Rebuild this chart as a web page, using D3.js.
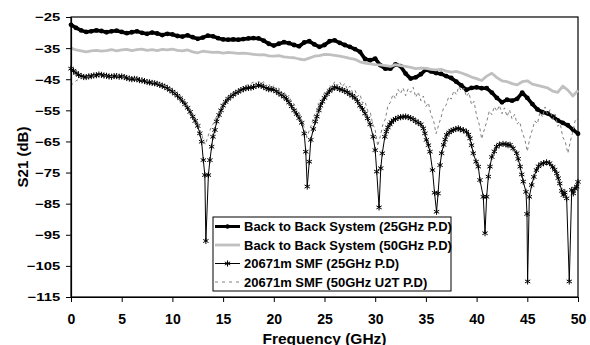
<!DOCTYPE html>
<html>
<head>
<meta charset="utf-8">
<script src="https://cdn.jsdelivr.net/npm/d3@7"></script>
<style>
  body { margin: 0; background: #fff; }
  svg { display: block; font-family: Arial, "Liberation Sans", sans-serif; }
</style>
</head>
<body>
<svg id="chart" width="590" height="345"></svg>
<script>
// tick labels
const xTicks = [0, 5, 10, 15, 20, 25, 30, 35, 40, 45, 50];
const yTicks = [-25, -35, -45, -55, -65, -75, -85, -95, -105, -115];

const seriesNames = [
  'Back to Back System (25GHz P.D)',
  'Back to Back System (50GHz P.D)',
  '20671m SMF (25GHz P.D)',
  '20671m SMF (50GHz U2T P.D)'
];

// frequency grid of the back to back sweeps (GHz)
const freqB2B = [0, 0.5, 1, 1.5, 2, 2.5, 3, 3.5, 4, 4.5, 5, 5.5, 6, 6.5, 7, 7.5, 8, 8.5, 9, 9.5,
  10, 10.5, 11, 11.5, 12, 12.5, 13, 13.5, 14, 14.5, 15, 15.5, 16, 16.5, 17, 17.5, 18, 18.5, 19, 19.5,
  20, 20.5, 21, 21.5, 22, 22.5, 23, 23.5, 24, 24.5, 25, 25.5, 26, 26.5, 27, 27.5, 28, 28.5, 29, 29.5,
  30, 30.5, 31, 31.5, 32, 32.5, 33, 33.5, 34, 34.5, 35, 35.5, 36, 36.5, 37, 37.5, 38, 38.5, 39, 39.5,
  40, 40.5, 41, 41.5, 42, 42.5, 43, 43.5, 44, 44.5, 45, 45.5, 46, 46.5, 47, 47.5, 48, 48.5, 49, 49.5, 50];

// S21 (dB), back to back, 25GHz photodiode
const b2b25 = [-27.5, -28.5, -29.3, -29.8, -29.6, -29.3, -29.5, -29.9, -29.6, -29.4,
  -29.8, -30.2, -29.9, -29.6, -30.1, -30.4, -30.0, -30.3, -30.8, -30.4,
  -30.6, -31.1, -31.3, -30.9, -31.5, -32.0, -31.6, -31.0, -31.2, -31.8,
  -32.2, -32.3, -32.2, -32.3, -32.1, -31.9, -31.8, -31.9, -32.6, -33.6,
  -34.2, -33.6, -33.1, -33.4, -34.0, -34.4, -33.2, -32.8, -33.8, -34.6,
  -34.0, -32.8, -32.5, -33.3, -34.0, -34.6, -35.3, -36.2, -38.5, -38.9,
  -38.4, -40.5, -41.6, -41.6, -40.2, -40.8, -43.2, -44.8, -44.4, -43.4,
  -41.9, -42.5, -43.0, -43.3, -44.0, -44.6, -45.8, -47.0, -48.4, -47.8,
  -47.6, -47.9, -47.9, -49.3, -51.0, -52.4, -51.6, -51.9, -51.3, -49.3,
  -51.0, -53.0, -54.7, -55.6, -56.0, -57.0, -58.2, -59.0, -59.8, -61.2, -62.5];

// S21 (dB), back to back, 50GHz photodiode
const b2b50 = [-35.0, -35.6, -35.9, -36.2, -35.9, -35.7, -36.0, -35.8, -35.5, -35.9,
  -35.6, -35.4, -35.8, -35.5, -35.3, -35.7, -35.5, -35.8, -35.4, -35.6,
  -35.3, -35.7, -35.9, -35.6, -36.2, -36.5, -36.0, -36.2, -36.4, -36.3,
  -36.6, -36.4, -36.5, -36.7, -36.6, -36.8, -37.0, -37.2, -37.1, -37.5,
  -37.6, -37.4, -37.8, -38.0, -38.1, -38.5, -38.8, -38.2, -37.6, -37.4,
  -37.0, -37.1, -37.3, -37.6, -37.9, -38.3, -38.6, -39.4, -39.8, -40.1,
  -40.3, -40.4, -40.6, -40.9, -40.3, -40.6, -40.9, -41.2, -41.6, -41.4,
  -41.5, -41.8, -42.0, -41.8, -42.4, -42.7, -42.5, -43.0, -43.6, -44.3,
  -44.8, -45.4, -44.0, -43.1, -44.5, -45.5, -45.8, -46.4, -46.8, -45.8,
  -45.5, -46.6, -47.0, -47.4, -47.8, -48.8, -49.2, -47.2, -48.5, -50.4, -48.6];

// 20671m SMF, 25GHz photodiode: [GHz, dB]
const smf25 = [[0, -41.6], [0.25, -42.3], [0.5, -43.0], [0.75, -43.6], [1, -44.0], [1.25, -44.3],
  [1.5, -44.3], [1.75, -44.1], [2, -44.0], [2.25, -43.8], [2.5, -43.7], [2.75, -43.5], [3, -43.6],
  [3.25, -43.8], [3.5, -43.9], [3.75, -44.1], [4, -44.2], [4.25, -44.0], [4.5, -44.0], [4.75, -44.2],
  [5, -44.1], [5.25, -44.3], [5.5, -44.6], [5.75, -44.8], [6, -45.0], [6.25, -44.9], [6.5, -45.0],
  [6.75, -45.3], [7, -45.4], [7.25, -45.6], [7.5, -45.9], [7.75, -46.0], [8, -46.2], [8.25, -46.3],
  [8.5, -46.5], [8.75, -46.8], [9, -47.1], [9.25, -47.4], [9.5, -47.9], [9.75, -48.4], [10, -49.0],
  [10.25, -49.6], [10.5, -50.3], [10.75, -51.1], [11, -52.0], [11.25, -53.0], [11.5, -54.2],
  [11.75, -55.5], [12, -57.0], [12.25, -58.4], [12.5, -60.0], [12.7, -62.4], [12.88, -65.1],
  [13.05, -71.0], [13.2, -75.8], [13.3, -97.0], [13.55, -75.8], [13.7, -71.0], [13.87, -66.7],
  [14.0, -63.5], [14.2, -61.3], [14.36, -58.6], [14.6, -56.5], [14.8, -55.0], [15, -53.5],
  [15.25, -52.3], [15.5, -51.3], [15.75, -50.6], [16, -50.0], [16.25, -49.4], [16.5, -49.0],
  [16.75, -48.5], [17, -48.2], [17.25, -47.9], [17.5, -47.8], [17.75, -47.7], [18, -47.5],
  [18.25, -47.1], [18.5, -46.9], [18.75, -47.1], [19, -47.4], [19.25, -47.9], [19.5, -48.2],
  [19.75, -48.2], [20, -48.4], [20.25, -48.9], [20.5, -49.5], [20.75, -50.0], [21, -50.6],
  [21.25, -51.4], [21.5, -52.5], [21.75, -53.7], [22, -55.0], [22.25, -56.2], [22.5, -57.5],
  [22.75, -59.0], [23.0, -62.5], [23.15, -68.3], [23.3, -79.5], [23.5, -71.5], [23.65, -64.5],
  [23.9, -61.0], [24.1, -58.6], [24.25, -57.0], [24.45, -55.0], [24.6, -53.5], [24.8, -52.2],
  [25, -51.0], [25.25, -49.8], [25.5, -48.8], [25.75, -48.1], [26, -47.6], [26.25, -47.8],
  [26.5, -48.2], [26.75, -48.4], [27, -48.8], [27.25, -49.2], [27.5, -49.8], [27.75, -50.3],
  [28, -51.0], [28.25, -52.1], [28.5, -53.5], [28.75, -54.6], [29, -56.0], [29.25, -57.6],
  [29.5, -59.5], [29.8, -63.5], [30.0, -67.8], [30.15, -74.7], [30.38, -86.2], [30.55, -73.6],
  [30.7, -68.8], [30.95, -63.5], [31.1, -61.8], [31.25, -60.5], [31.45, -59.5], [31.6, -58.8],
  [31.8, -58.2], [32, -57.8], [32.25, -57.4], [32.5, -57.2], [32.75, -57.1], [33, -57.0],
  [33.25, -57.2], [33.5, -57.5], [33.75, -57.9], [34, -58.5], [34.25, -59.0], [34.5, -59.5],
  [34.75, -60.8], [34.9, -62.4], [35.05, -64.5], [35.25, -66.2], [35.4, -68.3], [35.65, -74.2],
  [35.85, -81.5], [36.05, -87.6], [36.2, -81.7], [36.4, -72.6], [36.55, -68.8], [36.75, -66.1],
  [36.9, -64.4], [37.05, -62.9], [37.3, -62.1], [37.5, -61.6], [37.7, -61.3], [37.95, -61.0],
  [38.2, -60.8], [38.4, -61.1], [38.7, -61.4], [39.0, -61.9], [39.2, -62.8], [39.35, -64.0],
  [39.5, -66.2], [39.67, -68.8], [39.95, -71.5], [40.17, -73.1], [40.33, -77.4], [40.66, -82.8],
  [40.83, -94.5], [40.99, -82.8], [41.16, -76.3], [41.32, -73.1], [41.5, -70.0], [41.75, -68.2],
  [41.97, -66.7], [42.25, -66.0], [42.6, -65.8], [42.9, -65.9], [43.1, -66.2], [43.3, -66.1],
  [43.6, -67.2], [43.95, -68.8], [44.1, -70.6], [44.3, -73.1], [44.45, -75.6], [44.6, -77.9],
  [44.87, -81.2], [44.97, -88.3], [45.03, -110.0], [45.2, -82.8], [45.43, -79.0], [45.65, -76.4],
  [45.9, -74.2], [46.1, -73.0], [46.35, -72.3], [46.6, -72.0], [46.9, -71.7], [47.2, -72.0],
  [47.5, -73.2], [47.7, -74.1], [47.9, -75.3], [48.05, -76.8], [48.2, -78.5], [48.4, -80.9],
  [48.55, -82.2], [48.7, -81.4], [48.88, -83.3], [49.14, -110.0], [49.38, -80.6], [49.54, -81.7],
  [49.7, -80.2], [49.87, -79.5], [50, -78.0]];

// 20671m SMF, 50GHz U2T photodiode: [GHz, dB]
const smf50 = [[0, -47.0], [0.25, -46.2], [0.5, -45.5], [0.75, -45.1], [1, -44.6], [1.5, -44.3],
  [2, -44.1], [2.5, -43.8], [3, -43.7], [3.5, -44.0], [4, -44.1], [4.5, -43.9], [5, -44.2],
  [5.5, -44.4], [6, -44.8], [6.5, -44.9], [7, -45.2], [7.5, -45.6], [8, -46.0], [8.5, -46.3],
  [9, -46.8], [9.5, -47.6], [10, -48.6], [10.5, -49.8], [11, -51.5], [11.5, -53.6], [12, -56.2],
  [12.5, -59.0], [12.75, -61.5], [13, -64.0], [13.25, -66.0], [13.5, -63.5], [13.75, -61.0],
  [14, -59.5], [14.5, -56.0], [15, -52.8], [15.5, -50.6], [16, -49.2], [16.5, -48.6], [17, -47.1],
  [17.5, -46.8], [18, -45.9], [18.25, -47.2], [18.5, -45.6], [18.75, -46.5], [19, -45.8],
  [19.25, -47.3], [19.5, -46.4], [19.75, -48.1], [20, -46.9], [20.25, -48.6], [20.5, -47.8],
  [20.75, -49.7], [21, -48.9], [21.25, -50.8], [21.5, -50.2], [21.75, -52.4], [22, -52.9],
  [22.25, -55.0], [22.5, -55.6], [22.75, -58.2], [23, -60.5], [23.25, -63.8], [23.5, -61.5],
  [23.75, -59.2], [24, -56.4], [24.25, -55.1], [24.5, -52.3], [24.75, -51.6], [25, -49.2],
  [25.25, -48.9], [25.5, -47.1], [25.75, -47.6], [26, -45.8], [26.25, -47.0], [26.5, -45.9],
  [26.75, -47.4], [27, -46.3], [27.25, -48.2], [27.5, -47.2], [27.75, -49.1], [28, -48.4],
  [28.25, -50.6], [28.5, -49.8], [28.75, -52.7], [29, -52.2], [29.25, -55.1], [29.5, -55.4],
  [29.75, -59.3], [30, -61.2], [30.25, -66.5], [30.5, -63.4], [30.75, -59.6], [31, -57.8],
  [31.25, -53.6], [31.5, -52.4], [31.75, -49.9], [32, -51.2], [32.25, -48.3], [32.5, -49.6],
  [32.75, -47.8], [33, -50.3], [33.25, -48.1], [33.5, -49.2], [33.75, -47.6], [34, -50.8],
  [34.25, -49.1], [34.5, -51.9], [34.75, -50.4], [35, -53.8], [35.25, -52.6], [35.5, -56.4],
  [35.75, -58.1], [36, -62.5], [36.25, -59.8], [36.5, -57.2], [36.75, -54.1], [37, -53.3],
  [37.25, -50.6], [37.5, -51.4], [37.75, -48.7], [38, -49.9], [38.25, -47.4], [38.5, -48.8],
  [38.75, -47.9], [39, -50.6], [39.25, -49.3], [39.5, -53.2], [39.75, -52.1], [40, -56.8],
  [40.25, -59.4], [40.5, -64.2], [40.75, -61.3], [41, -58.6], [41.25, -55.2], [41.5, -56.4],
  [41.75, -53.8], [42, -55.3], [42.25, -53.4], [42.5, -56.1], [42.75, -54.2], [43, -57.0],
  [43.25, -54.9], [43.5, -57.8], [43.75, -56.3], [44, -59.4], [44.25, -58.6], [44.5, -62.1],
  [44.75, -64.3], [45, -68.2], [45.25, -63.9], [45.5, -61.2], [45.75, -58.4], [46, -59.3],
  [46.25, -55.6], [46.5, -57.1], [46.75, -53.9], [47, -56.3], [47.25, -54.8], [47.5, -57.9],
  [47.75, -56.2], [48, -60.1], [48.25, -59.3], [48.5, -63.6], [48.75, -65.2], [49, -68.8],
  [49.25, -64.9], [49.5, -61.7], [49.75, -57.8], [50, -58.6]];

const plotLeft = 71, plotRight = 578, plotTop = 17, plotBottom = 297;

const svg = d3.select('svg#chart');

const x = d3.scaleLinear().domain([0, 50]).range([plotLeft, plotRight]);
const y = d3.scaleLinear().domain([-115, -25]).range([plotBottom, plotTop]);

// frame
svg.append('rect')
  .attr('x', plotLeft).attr('y', plotTop)
  .attr('width', plotRight - plotLeft).attr('height', plotBottom - plotTop)
  .attr('fill', 'none').attr('stroke', '#000').attr('stroke-width', 1.2);

const line = d3.line().x(d => x(d[0])).y(d => y(d[1]));

const s1 = freqB2B.map((f, i) => [f, b2b25[i]]);
const s2 = freqB2B.map((f, i) => [f, b2b50[i]]);

const plot = svg.append('g');

// back to back 25GHz: thick black with dots
plot.append('path').datum(s1)
  .attr('d', line).attr('fill', 'none')
  .attr('stroke', '#000').attr('stroke-width', 3.6).attr('stroke-linejoin', 'round');
plot.append('g').selectAll('circle')
  .data(s1).join('circle')
  .attr('cx', d => x(d[0])).attr('cy', d => y(d[1])).attr('r', 2.4)
  .attr('fill', '#000');

// back to back 50GHz: light grey
plot.append('path').datum(s2)
  .attr('d', line).attr('fill', 'none')
  .attr('stroke', '#c0c0c0').attr('stroke-width', 2.8).attr('stroke-linejoin', 'round');

// SMF 25GHz: thin black with star markers
const star = d3.symbol(d3.symbolAsterisk, 26);
plot.append('path').datum(smf25)
  .attr('d', line).attr('fill', 'none')
  .attr('stroke', '#000').attr('stroke-width', 1);
plot.append('g').selectAll('path')
  .data(smf25).join('path')
  .attr('transform', d => 'translate(' + x(d[0]) + ',' + y(d[1]) + ')')
  .attr('d', star).attr('fill', 'none').attr('stroke', '#000').attr('stroke-width', 1);

// SMF 50GHz U2T: grey dashes
plot.append('path').datum(smf50)
  .attr('d', line).attr('fill', 'none')
  .attr('stroke', '#808080').attr('stroke-width', 1)
  .attr('stroke-dasharray', '3,3');

// axes
const xAxis = svg.append('g')
  .attr('transform', 'translate(0,' + plotBottom + ')')
  .call(d3.axisBottom(x).tickValues(xTicks).tickSize(5).tickSizeOuter(0));
xAxis.select('.domain').attr('stroke-width', 1.2);
xAxis.selectAll('text')
  .attr('y', 27).attr('dy', 0)
  .attr('font-size', '14px').attr('font-weight', 'bold').attr('fill', '#000')
  .attr('font-family', 'Arial, "Liberation Sans", sans-serif');

const yAxis = svg.append('g')
  .attr('transform', 'translate(' + plotLeft + ',0)')
  .call(d3.axisLeft(y).tickValues(yTicks).tickSize(5).tickSizeOuter(0));
yAxis.select('.domain').attr('stroke-width', 1.2);
yAxis.selectAll('text')
  .attr('x', -8).attr('dy', '0.36em')
  .attr('transform', 'scale(1.35,1)')
  .attr('font-size', '11px').attr('font-weight', 'bold').attr('fill', '#000')
  .attr('font-family', 'Arial, "Liberation Sans", sans-serif');

// axis titles
svg.append('text')
  .attr('x', (plotLeft + plotRight) / 2).attr('y', 344)
  .attr('text-anchor', 'middle')
  .attr('font-size', '15.5px').attr('font-weight', 'bold')
  .text('Frequency (GHz)');

svg.append('text')
  .attr('transform', 'translate(28,157) rotate(-90)')
  .attr('text-anchor', 'middle')
  .attr('font-size', '15px').attr('font-weight', 'bold')
  .text('S21 (dB)');

// legend
const legend = svg.append('g');
legend.append('rect')
  .attr('x', 213).attr('y', 217).attr('width', 238).attr('height', 74)
  .attr('fill', '#fff').attr('stroke', '#000').attr('stroke-width', 1);

const rows = legend.selectAll('g.row')
  .data(seriesNames).join('g')
  .attr('class', 'row')
  .attr('transform', (d, i) => 'translate(0,' + (226.5 + i * 18.5) + ')');

rows.append('line')
  .attr('x1', 215).attr('x2', 240)
  .attr('stroke', (d, i) => ['#000', '#c0c0c0', '#000', '#808080'][i])
  .attr('stroke-width', (d, i) => [3, 2.8, 1, 1][i])
  .attr('stroke-dasharray', (d, i) => i === 3 ? '3,4' : null);

rows.filter((d, i) => i === 0).append('circle')
  .attr('cx', 227.5).attr('r', 2.2).attr('fill', '#000');
rows.filter((d, i) => i === 2).append('path')
  .attr('transform', 'translate(227.5,0)')
  .attr('d', star).attr('fill', 'none').attr('stroke', '#000');

rows.append('text')
  .attr('x', 244).attr('dy', '0.36em')
  .attr('font-size', '13px').attr('font-weight', 'bold')
  .text(d => d);
</script>
</body>
</html>
